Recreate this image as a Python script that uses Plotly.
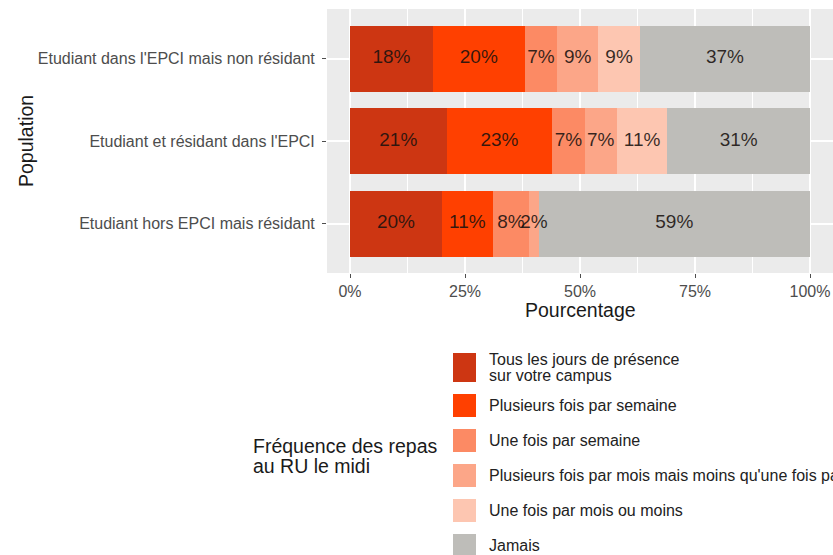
import plotly.graph_objects as go

# Populations, listed from the top bar to the bottom bar
populations = [
    "Etudiant dans l'EPCI mais non résidant",
    "Etudiant et résidant dans l'EPCI",
    "Etudiant hors EPCI mais résidant",
]

# Frequency categories (stack order, left to right)
frequences = [
    "Tous les jours de présence<br>sur votre campus",
    "Plusieurs fois par semaine",
    "Une fois par semaine",
    "Plusieurs fois par mois mais moins qu'une fois par semaine",
    "Une fois par mois ou moins",
    "Jamais",
]

# Percentages per population (same order as `populations`)
tous_les_jours = [18, 21, 20]
plusieurs_par_semaine = [20, 23, 11]
une_par_semaine = [7, 7, 8]
plusieurs_par_mois = [9, 7, 2]
une_par_mois = [9, 11, 0]
jamais = [37, 31, 59]

series = [tous_les_jours, plusieurs_par_semaine, une_par_semaine,
          plusieurs_par_mois, une_par_mois, jamais]

couleurs = ["#CD3612", "#FF4000", "#FC8A64", "#FCA688", "#FDC6B1", "#BEBDB9"]

x_ticks = [0, 25, 50, 75, 100]
x_tick_labels = ["0%", "25%", "50%", "75%", "100%"]

FONT = "Liberation Sans, Arial, sans-serif"
W, H = 833, 555
ML, MR, MT, MB = 327, 0, 9, 282
PW, PH = W - ML - MR, H - MT - MB


def px_x(px):
    return (px - ML) / PW


def px_y(py):
    return (H - MB - py) / PH


fig = go.Figure()

# Stacked horizontal bars
for name, vals, col in zip(frequences, series, couleurs):
    fig.add_trace(go.Bar(
        y=populations, x=vals, orientation="h", name=name,
        marker=dict(color=col, line=dict(width=0)),
        width=0.8, showlegend=False, hoverinfo="skip",
    ))

# Percentage labels centred in each segment
lab_x, lab_y, lab_t = [], [], []
for i, pop in enumerate(populations):
    cum = 0
    for vals in series:
        v = vals[i]
        if v > 0:
            lab_x.append(cum + v / 2)
            lab_y.append(pop)
            lab_t.append(f"{v}%")
        cum += v
fig.add_trace(go.Scatter(
    x=lab_x, y=lab_y, text=lab_t, mode="text",
    textposition="middle center",
    textfont=dict(family=FONT, size=19, color="rgba(25,18,15,0.88)"),
    showlegend=False, hoverinfo="skip",
))

fig.update_layout(
    width=W, height=H,
    margin=dict(l=ML, r=MR, t=MT, b=MB, pad=0),
    barmode="stack",
    paper_bgcolor="white",
    plot_bgcolor="#EBEBEB",
    font=dict(family=FONT, color="#4D4D4D"),
    xaxis=dict(
        range=[-5, 105], tickvals=x_ticks, ticktext=x_tick_labels,
        showgrid=True, gridcolor="white", gridwidth=1.6,
        minor=dict(tickvals=[12.5, 37.5, 62.5, 87.5], showgrid=True,
                   gridcolor="white", gridwidth=0.8, ticks=""),
        zeroline=False, ticks="outside", ticklen=4, tickwidth=1,
        tickcolor="#4D4D4D", tickfont=dict(size=16, color="#4D4D4D"),
        showline=False, fixedrange=True,
    ),
    yaxis=dict(
        categoryorder="array", categoryarray=populations[::-1],
        range=[-0.6, 2.6], showgrid=True, gridcolor="white", gridwidth=1.6,
        zeroline=False, ticks="outside", ticklen=4, tickwidth=1,
        tickcolor="#4D4D4D", tickfont=dict(size=16, color="#4D4D4D"),
        ticklabelstandoff=4, showline=False, fixedrange=True,
    ),
)

annotations = [
    dict(text="Pourcentage", xref="x", x=50, yref="paper", y=px_y(310),
         xanchor="center", yanchor="middle", showarrow=False,
         font=dict(size=19.5, color="#1A1A1A")),
    dict(text="Population", xref="paper", x=px_x(26), yref="paper", y=0.5,
         xanchor="center", yanchor="middle", textangle=-90, showarrow=False,
         font=dict(size=19.5, color="#1A1A1A")),
    dict(text="Fréquence des repas", xref="paper", x=px_x(251), yref="paper",
         y=px_y(446), xanchor="left", yanchor="middle", showarrow=False,
         font=dict(size=19.5, color="#1A1A1A")),
    dict(text="au RU le midi", xref="paper", x=px_x(251), yref="paper",
         y=px_y(466), xanchor="left", yanchor="middle", showarrow=False,
         font=dict(size=19.5, color="#1A1A1A")),
]

# Legend drawn as keys and labels beside the title
key_x0, key_x1, text_x = 453, 476, 487
key_rows = [(353, 382), (394, 417), (429, 452), (464, 487), (499, 522), (534, 557)]
shapes = []
for name, col, (k0, k1) in zip(frequences, couleurs, key_rows):
    shapes.append(dict(type="rect", xref="paper", yref="paper",
                       x0=px_x(key_x0), x1=px_x(key_x1),
                       y0=px_y(k1), y1=px_y(k0),
                       fillcolor=col, line=dict(width=0), layer="above"))
    lines = name.split("<br>")
    mid = (k0 + k1) / 2
    step = 16
    for j, line in enumerate(lines):
        cy = mid + (j - (len(lines) - 1) / 2) * step
        annotations.append(dict(
            text=line, xref="paper", x=px_x(text_x), yref="paper", y=px_y(cy),
            xanchor="left", yanchor="middle", showarrow=False,
            font=dict(size=16, color="#222222")))

fig.update_layout(annotations=annotations, shapes=shapes)

fig.write_html("out.html")
